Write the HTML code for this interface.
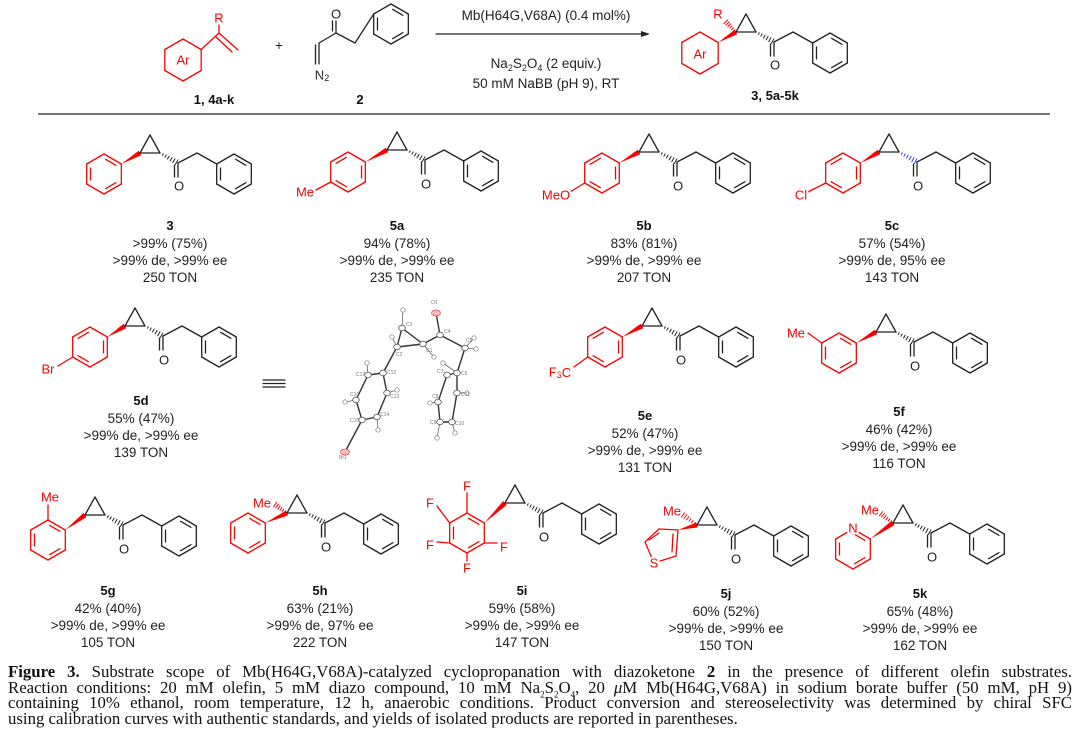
<!DOCTYPE html>
<html><head><meta charset="utf-8">
<style>
html,body{margin:0;padding:0;background:#fff;}
body{width:1080px;height:750px;position:relative;overflow:hidden;}
svg{position:absolute;left:0;top:0;}
.t{font-family:"Liberation Sans",sans-serif;font-size:13.5px;fill:#222;text-anchor:middle;}
.b{font-family:"Liberation Sans",sans-serif;font-size:13px;font-weight:bold;fill:#111;text-anchor:middle;}
.a{font-family:"Liberation Sans",sans-serif;font-size:13px;text-anchor:middle;dominant-baseline:central;paint-order:stroke;stroke:#fff;stroke-width:4px;}
.r{fill:#f00;}
.k{fill:#222;}
.x{font-family:"Liberation Sans",sans-serif;font-size:5px;fill:#777;}
#cap{position:absolute;left:8px;top:664px;width:1064px;font-family:"Liberation Serif",serif;font-size:16.8px;line-height:15.7px;color:#111;}
#cap div{text-align:justify;text-align-last:justify;height:15.7px;white-space:normal;}
#cap div.l{text-align-last:left;}
</style></head><body>
<svg id="s" width="1080" height="750" viewBox="0 0 1080 750">
<g id="g"></g>
<text class="t" x="546" y="20">Mb(H64G,V68A) (0.4 mol%)</text>
<text class="t" x="546" y="68">Na<tspan font-size="9" dy="3">2</tspan><tspan dy="-3">S</tspan><tspan font-size="9" dy="3">2</tspan><tspan dy="-3">O</tspan><tspan font-size="9" dy="3">4</tspan><tspan dy="-3"> (2 equiv.)</tspan></text>
<text class="t" x="546" y="88">50 mM NaBB (pH 9), RT</text>
<text class="b" x="214" y="104">1, 4a-k</text>
<text class="b" x="360" y="104">2</text>
<text class="b" x="775" y="100">3, 5a-5k</text>
<text class="t" x="279" y="50" font-size="14">+</text>
<text class="a r" x="183" y="60">Ar</text>
<text class="a r" x="219" y="18">R</text>
<text class="a k" x="336" y="14">O</text>
<text class="a k" x="322" y="75">N<tspan font-size="9" dy="3">2</tspan></text>
<text class="a r" x="700" y="54">Ar</text>
<text class="a r" x="718" y="14">R</text>
<text class="a r" x="305" y="192">Me</text>
<text class="a r" x="556" y="195">MeO</text>
<text class="a r" x="801" y="195">Cl</text>
<text class="a r" x="48" y="369">Br</text>
<text class="a r" x="560" y="372">F<tspan font-size="9" dy="3">3</tspan><tspan dy="-3">C</tspan></text>
<text class="a r" x="796" y="333">Me</text>
<text class="a r" x="50" y="497">Me</text>
<text class="a r" x="262" y="503">Me</text>
<text class="a r" x="467" y="486">F</text>
<text class="a r" x="430" y="503">F</text>
<text class="a r" x="430" y="545">F</text>
<text class="a r" x="504" y="547">F</text>
<text class="a r" x="467" y="568">F</text>
<text class="a r" x="672" y="511">Me</text>
<text class="a r" x="654" y="563">S</text>
<text class="a r" x="870" y="510">Me</text>
<text class="a r" x="853" y="528">N</text>
<text class="a k" x="775" y="65">O</text>
<text class="a k" x="179" y="186">O</text>
<text class="a k" x="426" y="184">O</text>
<text class="a k" x="678" y="186">O</text>
<text class="a k" x="918" y="186">O</text>
<text class="a k" x="164" y="360">O</text>
<text class="a k" x="681" y="360">O</text>
<text class="a k" x="915" y="366">O</text>
<text class="a k" x="124" y="549">O</text>
<text class="a k" x="326" y="547">O</text>
<text class="a k" x="544" y="537">O</text>
<text class="a k" x="736" y="559">O</text>
<text class="a k" x="932" y="557">O</text>
<g>
<text class="b" x="170" y="230">3</text><text class="t" x="170" y="248">&gt;99% (75%)</text><text class="t" x="170" y="265">&gt;99% de, &gt;99% ee</text><text class="t" x="170" y="282">250 TON</text>
<text class="b" x="397" y="230">5a</text><text class="t" x="397" y="248">94% (78%)</text><text class="t" x="397" y="265">&gt;99% de, &gt;99% ee</text><text class="t" x="397" y="282">235 TON</text>
<text class="b" x="644" y="230">5b</text><text class="t" x="644" y="248">83% (81%)</text><text class="t" x="644" y="265">&gt;99% de, &gt;99% ee</text><text class="t" x="644" y="282">207 TON</text>
<text class="b" x="892" y="230">5c</text><text class="t" x="892" y="248">57% (54%)</text><text class="t" x="892" y="265">&gt;99% de, 95% ee</text><text class="t" x="892" y="282">143 TON</text>
<text class="b" x="141" y="405">5d</text><text class="t" x="141" y="423">55% (47%)</text><text class="t" x="141" y="440">&gt;99% de, &gt;99% ee</text><text class="t" x="141" y="457">139 TON</text>
<text class="b" x="645" y="420">5e</text><text class="t" x="645" y="438">52% (47%)</text><text class="t" x="645" y="455">&gt;99% de, &gt;99% ee</text><text class="t" x="645" y="472">131 TON</text>
<text class="b" x="899" y="416">5f</text><text class="t" x="899" y="434">46% (42%)</text><text class="t" x="899" y="451">&gt;99% de, &gt;99% ee</text><text class="t" x="899" y="468">116 TON</text>
<text class="b" x="108" y="595">5g</text><text class="t" x="108" y="613">42% (40%)</text><text class="t" x="108" y="630">&gt;99% de, &gt;99% ee</text><text class="t" x="108" y="647">105 TON</text>
<text class="b" x="320" y="595">5h</text><text class="t" x="320" y="613">63% (21%)</text><text class="t" x="320" y="630">&gt;99% de, 97% ee</text><text class="t" x="320" y="647">222 TON</text>
<text class="b" x="522" y="595">5i</text><text class="t" x="522" y="613">59% (58%)</text><text class="t" x="522" y="630">&gt;99% de, &gt;99% ee</text><text class="t" x="522" y="647">147 TON</text>
<text class="b" x="726" y="598">5j</text><text class="t" x="726" y="616">60% (52%)</text><text class="t" x="726" y="633">&gt;99% de, &gt;99% ee</text><text class="t" x="726" y="650">150 TON</text>
<text class="b" x="920" y="598">5k</text><text class="t" x="920" y="616">65% (48%)</text><text class="t" x="920" y="633">&gt;99% de, &gt;99% ee</text><text class="t" x="920" y="650">162 TON</text>
</g>
<g class="x">
<text x="431" y="304">O1</text><text x="444" y="333">C4</text><text x="406" y="326">C3</text><text x="396" y="356">C2</text><text x="426" y="352">C1</text><text x="466" y="342">C5</text>
<text x="387" y="374">C12</text><text x="356" y="376">C17</text><text x="390" y="398">C13</text><text x="350" y="396">C16</text><text x="380" y="416">C14</text><text x="350" y="422">C15</text><text x="339" y="459">Br1</text>
<text x="461" y="375">C6</text><text x="437" y="373">C7</text><text x="461" y="396">C11</text><text x="432" y="398">C8</text><text x="455" y="425">C10</text><text x="430" y="424">C9</text>
</g>
</svg>
<div id="cap">
<div><b>Figure 3.</b> Substrate scope of Mb(H64G,V68A)-catalyzed cyclopropanation with diazoketone <b>2</b> in the presence of different olefin substrates.</div>
<div>Reaction conditions: 20 mM olefin, 5 mM diazo compound, 10 mM Na<sub style="font-size:9px;line-height:0">2</sub>S<sub style="font-size:9px;line-height:0">2</sub>O<sub style="font-size:9px;line-height:0">4</sub>, 20 <i>μ</i>M Mb(H64G,V68A) in sodium borate buffer (50 mM, pH 9)</div>
<div>containing 10% ethanol, room temperature, 12 h, anaerobic conditions. Product conversion and stereoselectivity was determined by chiral SFC</div>
<div class="l">using calibration curves with authentic standards, and yields of isolated products are reported in parentheses.</div>
</div>
<script>
(function(){
var S=[],K='#222',R='#f00';
function ln(a,b,c,d,col,w){S.push('<line x1="'+a+'" y1="'+b+'" x2="'+c+'" y2="'+d+'" stroke="'+(col||K)+'" stroke-width="'+(w||1.3)+'" stroke-linecap="round"/>');}
function hv(cx,cy,r){var v=[];for(var i=0;i<6;i++){var a=(-90+60*i)*Math.PI/180;v.push([cx+r*Math.cos(a),cy+r*Math.sin(a)]);}return v;}
function inner(p,q,cx,cy,col){var f=0.78;var a=[cx+(p[0]-cx)*f,cy+(p[1]-cy)*f],b=[cx+(q[0]-cx)*f,cy+(q[1]-cy)*f];var t=0.12;ln(a[0]+(b[0]-a[0])*t,a[1]+(b[1]-a[1])*t,b[0]-(b[0]-a[0])*t,b[1]-(b[1]-a[1])*t,col);}
function ring(cx,cy,r,col,dbl){var v=hv(cx,cy,r);for(var i=0;i<6;i++){var p=v[i],q=v[(i+1)%6];ln(p[0],p[1],q[0],q[1],col);}(dbl||[]).forEach(function(i){inner(v[i],v[(i+1)%6],cx,cy,col);});return v;}
function wedge(x1,y1,x2,y2,col){var dx=x2-x1,dy=y2-y1,l=Math.hypot(dx,dy),nx=-dy/l*2.6,ny=dx/l*2.6;S.push('<polygon points="'+x1+','+y1+' '+(x2+nx)+','+(y2+ny)+' '+(x2-nx)+','+(y2-ny)+'" fill="'+col+'"/>');}
function hash(x1,y1,x2,y2,col){var dx=x2-x1,dy=y2-y1,l=Math.hypot(dx,dy),ux=-dy/l,uy=dx/l;for(var i=1;i<=6;i++){var t=i/6.5,w=0.6+2.2*t,px=x1+dx*t,py=y1+dy*t;ln(px-ux*w,py-uy*w,px+ux*w,py+uy*w,col,1);}}
function tail(Lx,Ly,hc){var Rx=Lx+20,Ry=Ly,Ax=Lx+10,Ay=Ly-18;ln(Lx,Ly,Rx,Ry);ln(Rx,Ry,Ax,Ay);ln(Ax,Ay,Lx,Ly);
 var Kx=Lx+38,Ky=Ly+10;hash(Rx,Ry,Kx,Ky,hc||K);ln(Kx,Ky,Kx,Ky+14);ln(Kx-3.5,Ky+2,Kx-3.5,Ky+14);
 ln(Kx,Ky,Lx+57,Ly);var c=[Lx+94,Ly+21];var v=ring(c[0],c[1],20,K,[0,2,4]);ln(Lx+57,Ly,v[5][0],v[5][1]);}
function aryl(cx,cy,Lx,Ly,dbl){var v=ring(cx,cy,20,R,dbl||[1,3,5]);wedge(v[1][0],v[1][1],Lx,Ly,R);return v;}
var v=ring(183,60,21,R,[]);ln(v[1][0],v[1][1],219,33,R);ln(219,33,219,25,R);ln(219,33,238,50,R);ln(216,37,232,52,R);
v=ring(391,24,20,K,[0,2,4]);ln(v[5][0],v[5][1],355,43);ln(355,43,336,33);ln(336,33,336,21);ln(332.5,31,332.5,21);ln(336,33,319,43);ln(319,43,319,64);ln(315.5,45,315.5,64);
ln(436,34,644,34,K,1.2);S.push('<polygon points="650,34 641,31 641,37" fill="#222"/>');
v=ring(700,53,21,R,[]);wedge(v[1][0],v[1][1],736,32,R);hash(736,32,725,21,R);tail(736,32);
S.push('<line x1="38" y1="114" x2="1050" y2="114" stroke="#777" stroke-width="2"/>');
aryl(104,174,140,153,[0,2,4]);tail(140,153);
v=aryl(348,172,387,150);ln(v[4][0],v[4][1],316,190,R);tail(387,150);
v=aryl(602,173,639,152);ln(v[4][0],v[4][1],570,192,R);tail(639,152);
v=aryl(843,173,879,152);ln(v[4][0],v[4][1],808,192,R);tail(879,152,'#33f');
v=aryl(90,347,125,326);ln(v[4][0],v[4][1],58,366,R);tail(125,326);
v=aryl(605,347,642,326);ln(v[4][0],v[4][1],574,367,R);tail(642,326);
v=aryl(839,353,876,332,[0,2,4]);ln(v[5][0],v[5][1],808,333,R);tail(876,332);
ln(263,380,285,380,K,1.2);ln(263,383.5,285,383.5,K,1.2);ln(263,387,285,387,K,1.2);
v=aryl(48,540,85,515,[0,2,4]);ln(v[0][0],v[0][1],48,505,R);tail(85,515);
v=aryl(248,533,287,513,[0,2,4]);hash(287,513,274,504,R);tail(287,513);
v=aryl(467,533,505,503,[0,2,4]);ln(v[0][0],v[0][1],467,492,R);ln(v[5][0],v[5][1],437,506,R);ln(v[4][0],v[4][1],437,542,R);ln(v[2][0],v[2][1],497,543,R);ln(v[3][0],v[3][1],467,562,R);tail(505,503);
var P=[[678,530],[676,556],[654,563],[645,542],[659,529]];for(var i=0;i<5;i++){var a=P[i],b=P[(i+1)%5];ln(a[0],a[1],b[0],b[1],R);}ln(673,534,672,552,R);ln(649,540,659,533,R);wedge(678,530,697,525,R);hash(697,525,682,514,R);tail(697,525);
v=ring(853,549,20,R,[0,2,4]);wedge(v[1][0],v[1][1],893,523,R);hash(893,523,880,513,R);tail(893,523);
var A={O1:[436,313],C4:[440,335],C1:[423,344],C3:[402,328],C2:[397,347],C5:[465,348],C12:[383,373],C17:[368,375],C13:[387,393],C16:[356,400],C14:[377,417],C15:[362,420],Br1:[345,452],C6:[457,373],C7:[447,375],C11:[457,393],C8:[438,402],C10:[452,422],C9:[440,422]};
var B=[['C3','C2'],['C3','C1'],['C2','C1'],['C1','C4'],['C4','O1'],['C4','C5'],['C5','C6'],['C2','C12'],['C12','C17'],['C12','C13'],['C17','C16'],['C13','C14'],['C16','C15'],['C14','C15'],['C15','Br1'],['C6','C7'],['C6','C11'],['C7','C8'],['C11','C10'],['C8','C9'],['C9','C10']];
B.forEach(function(b){var p=A[b[0]],q=A[b[1]];ln(p[0],p[1],q[0],q[1],'#333',1.4);});
var H=[['C1',434,357],['C3',403,310],['C2',392,337],['C5',474,338],['C5',476,349],['C17',367,363],['C13',397,390],['C16',345,402],['C14',378,430],['C6',443,363],['C11',467,393],['C8',430,403],['C10',455,433],['C9',437,438]];
H.forEach(function(h){var p=A[h[0]];ln(p[0],p[1],h[1],h[2],'#666',0.8);S.push('<circle cx="'+h[1]+'" cy="'+h[2]+'" r="2.2" fill="#fff" stroke="#777" stroke-width="0.7"/>');});
for(var k in A){var p=A[k];var red=(k=='O1'||k=='Br1');S.push('<ellipse cx="'+p[0]+'" cy="'+p[1]+'" rx="'+(red?4.5:3.3)+'" ry="'+(red?3:2.8)+'" fill="'+(red?'#fbb':'#fff')+'" stroke="'+(red?'#d55':'#555')+'" stroke-width="0.8"/>');}
document.getElementById('g').innerHTML=S.join('');
})();
</script>
</body></html>
